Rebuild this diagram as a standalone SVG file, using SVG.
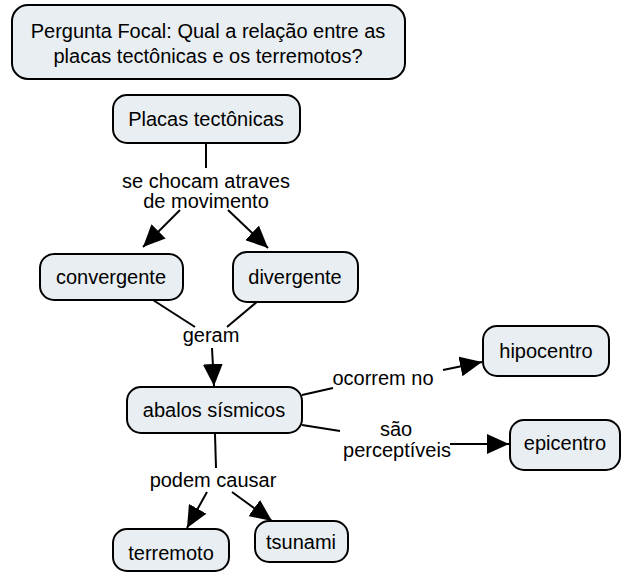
<svg xmlns="http://www.w3.org/2000/svg" width="622" height="573" viewBox="0 0 622 573">
<style>
.node rect{fill:#e9eef2;stroke:#000;stroke-width:2}
text{font-family:"Liberation Sans",Arial,sans-serif;font-size:20px;fill:#000;text-anchor:middle}
.conn line{stroke:#000;stroke-width:2;fill:none}
.arr{marker-end:url(#ah)}
</style>
<defs>
<marker id="ah" markerUnits="userSpaceOnUse" markerWidth="24" markerHeight="20" refX="22" refY="10" orient="auto" viewBox="0 0 24 20">
<path d="M0,0 L22,10 L0,20 Z" fill="#000"/>
</marker>
</defs>
<rect width="622" height="573" fill="#fff"/>
<g id="focal" class="node">
<rect x="12" y="5" width="393" height="74" rx="16"/>
<text x="208" y="38">Pergunta Focal: Qual a relação entre as</text>
<text x="208" y="63">placas tectônicas e os terremotos?</text>
</g>
<g class="conn" id="connectors">
<line x1="206" y1="143" x2="206" y2="168"/>
<line class="arr" x1="180" y1="210" x2="143" y2="247"/>
<line class="arr" x1="228" y1="210" x2="268" y2="248"/>
<line x1="153" y1="300" x2="195" y2="327"/>
<line x1="258" y1="301" x2="227" y2="327"/>
<line class="arr" x1="212" y1="348" x2="214" y2="386"/>
<line x1="302" y1="395" x2="333" y2="388"/>
<line class="arr" x1="443" y1="370" x2="482" y2="362"/>
<line x1="302" y1="425" x2="340" y2="431"/>
<line class="arr" x1="450" y1="444" x2="509" y2="444"/>
<line x1="215" y1="434" x2="216" y2="468"/>
<line class="arr" x1="207" y1="492" x2="187" y2="528"/>
<line class="arr" x1="232" y1="492" x2="272" y2="521"/>
</g>
<g id="lbl1"><text x="206" y="188">se chocam atraves</text><text x="206" y="208">de movimento</text></g>
<g id="lbl2"><text x="211" y="342">geram</text></g>
<g id="lbl3"><text x="383" y="385">ocorrem no</text></g>
<g id="lbl4"><text x="396" y="436">são</text><text x="397" y="457">perceptíveis</text></g>
<g id="lbl5"><text x="213" y="487">podem causar</text></g>
<g id="placas" class="node"><rect x="113" y="95" width="187" height="48" rx="14"/><text x="206" y="126">Placas tectônicas</text></g>
<g id="convergente" class="node"><rect x="40" y="254" width="143" height="46" rx="14"/><text x="111" y="284">convergente</text></g>
<g id="divergente" class="node"><rect x="233" y="252" width="125" height="50" rx="14"/><text x="295" y="284">divergente</text></g>
<g id="abalos" class="node"><rect x="127" y="387" width="175" height="46" rx="14"/><text x="214" y="417">abalos sísmicos</text></g>
<g id="hipocentro" class="node"><rect x="483" y="326" width="126" height="50" rx="14"/><text x="546" y="358">hipocentro</text></g>
<g id="epicentro" class="node"><rect x="510" y="420" width="110" height="50" rx="14"/><text x="565" y="450">epicentro</text></g>
<g id="terremoto" class="node"><rect x="113" y="529" width="116" height="42" rx="14"/><text x="171" y="560">terremoto</text></g>
<g id="tsunami" class="node"><rect x="255" y="521" width="93" height="41" rx="14"/><text x="301" y="549">tsunami</text></g>
</svg>
